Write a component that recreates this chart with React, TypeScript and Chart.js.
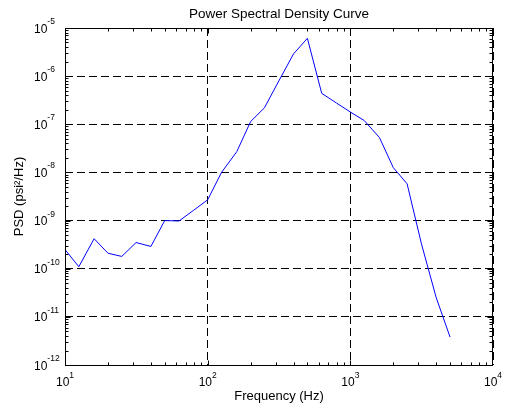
import React, { useEffect, useRef } from 'react';
import { Chart, registerables } from 'chart.js';

Chart.register(...registerables);

const TITLE = 'Power Spectral Density Curve';
const X_LABEL = 'Frequency (Hz)';
const Y_LABEL = 'PSD (psi²/Hz)';

const FREQUENCIES = [10, 12.5, 16, 20, 25, 31.5, 40, 50, 63, 80, 100, 125, 160, 200, 250, 315, 400, 500, 630, 800, 1000, 1250, 1600, 2000, 2500, 3150, 4000, 5000];
const PSD_VALUES = [
  2.5e-10, 1.1e-10, 4.2e-10, 2.1e-10, 1.8e-10, 3.5e-10, 2.9e-10, 1.0e-9, 0.98e-9, 1.65e-9,
  2.7e-9, 1.0e-8, 2.7e-8, 1.14e-7, 2.2e-7, 7.9e-7, 2.9e-6, 6.1e-6, 4.4e-7, 2.76e-7,
  1.8e-7, 1.2e-7, 5.3e-8, 1.26e-8, 5.8e-9, 3.3e-10, 2.5e-11, 3.8e-12,
];

const X_DECADES = [10, 100, 1000, 10000];
const X_TICK_EXPONENTS = ['1', '2', '3', '4'];
const Y_DECADES = [1e-12, 1e-11, 1e-10, 1e-9, 1e-8, 1e-7, 1e-6, 1e-5];
const Y_TICK_EXPONENTS = ['-12', '-11', '-10', '-9', '-8', '-7', '-6', '-5'];
const TICK_BASE = '10';
const MINOR_MULTIPLIERS = [2, 3, 4, 5, 6, 7, 8, 9];

const FONT = '"Liberation Sans", Arial, Helvetica, sans-serif';

function buildTicks(decades: number[]) {
  const out: { value: number; major: boolean }[] = [];
  decades.forEach((d, i) => {
    out.push({ value: d, major: true });
    if (i < decades.length - 1) {
      MINOR_MULTIPLIERS.forEach((m) => out.push({ value: d * m, major: false }));
    }
  });
  return out;
}

const matlabAxes = {
  id: 'matlabAxes',
  afterDraw(chart: any) {
    const { ctx, chartArea: a, scales } = chart;
    const xs = scales.x;
    const ys = scales.y;
    const L = Math.round(a.left) + 0.5;
    const R = Math.round(a.right) - 0.5;
    const T = Math.round(a.top) + 0.5;
    const B = Math.round(a.bottom) + 0.5;
    ctx.save();
    ctx.strokeStyle = '#000';
    ctx.lineWidth = 1;
    ctx.setLineDash([]);
    ctx.beginPath();
    ctx.moveTo(L, T); ctx.lineTo(R, T); ctx.lineTo(R, B); ctx.lineTo(L, B); ctx.closePath();
    xs.ticks.forEach((t: any) => {
      const px = Math.round(xs.getPixelForValue(t.value)) + 0.5;
      if (px <= L + 1 || px >= R - 1) return;
      const len = t.major ? 5 : 3;
      ctx.moveTo(px, B); ctx.lineTo(px, B - len);
      ctx.moveTo(px, T); ctx.lineTo(px, T + len);
    });
    ys.ticks.forEach((t: any) => {
      const py = Math.round(ys.getPixelForValue(t.value)) + 0.5;
      if (py <= T + 1 || py >= B - 1) return;
      const len = t.major ? 5 : 3;
      ctx.moveTo(L, py); ctx.lineTo(L + len, py);
      ctx.moveTo(R, py); ctx.lineTo(R - len, py);
    });
    ctx.stroke();

    ctx.fillStyle = '#000';
    // title centred over the plot area
    ctx.font = `13.5px ${FONT}`;
    ctx.textAlign = 'center';
    ctx.textBaseline = 'alphabetic';
    ctx.fillText(TITLE, (a.left + a.right) / 2, 17.5);

    // tick labels: base "10" with superscript exponent
    ctx.textAlign = 'left';
    const baseFont = `12px ${FONT}`;
    const expFont = `8.5px ${FONT}`;
    X_DECADES.forEach((v, i) => {
      const px = xs.getPixelForValue(v);
      ctx.font = baseFont;
      const bw = ctx.measureText(TICK_BASE).width;
      ctx.font = expFont;
      const ew = ctx.measureText(X_TICK_EXPONENTS[i]).width;
      const start = px - (bw + ew) / 2;
      ctx.font = baseFont;
      ctx.fillText(TICK_BASE, start, 386);
      ctx.font = expFont;
      ctx.fillText(X_TICK_EXPONENTS[i], start + bw, 377.5);
    });
    Y_DECADES.forEach((v, i) => {
      const py = ys.getPixelForValue(v);
      ctx.font = baseFont;
      const bw = ctx.measureText(TICK_BASE).width;
      const baseX = 34;
      ctx.fillText(TICK_BASE, baseX, py + 4.5);
      ctx.font = expFont;
      ctx.fillText(Y_TICK_EXPONENTS[i], baseX + bw, py - 4);
    });
    ctx.restore();
  },
};

export default function App() {
  const canvasRef = useRef<HTMLCanvasElement | null>(null);

  useEffect(() => {
    const canvas = canvasRef.current;
    if (!canvas) return;
    const gridColor = (c: any) => (c.tick && c.tick.major ? '#000' : 'rgba(0,0,0,0)');
    const chart = new Chart(canvas, {
      type: 'line',
      data: {
        datasets: [
          {
            data: FREQUENCIES.map((f, i) => ({ x: f, y: PSD_VALUES[i] })),
            borderColor: '#0000ff',
            borderWidth: 1,
            pointRadius: 0,
            tension: 0,
            fill: false,
          },
        ],
      },
      options: {
        animation: false,
        responsive: false,
        maintainAspectRatio: false,
        events: [],
        layout: { padding: { left: 0, right: 23, top: 28, bottom: 0 } },
        plugins: {
          legend: { display: false },
          tooltip: { enabled: false },
          title: { display: false },
        },
        scales: {
          x: {
            type: 'logarithmic',
            position: 'bottom',
            min: 10,
            max: 10000,
            afterBuildTicks: (s: any) => { s.ticks = buildTicks(X_DECADES); },
            afterFit: (s: any) => { s.height = 43; },
            ticks: { display: false },
            grid: { drawTicks: false, color: gridColor, lineWidth: 1 },
            border: { display: false, dash: [8, 4] },
            title: {
              display: true,
              text: X_LABEL,
              color: '#000',
              font: { family: FONT, size: 13 },
              padding: { top: 0, bottom: 4 },
            },
          },
          y: {
            type: 'logarithmic',
            position: 'left',
            min: 1e-12,
            max: 1e-5,
            afterBuildTicks: (s: any) => { s.ticks = buildTicks(Y_DECADES); },
            afterFit: (s: any) => { s.width = 65; },
            ticks: { display: false },
            grid: { drawTicks: false, color: gridColor, lineWidth: 1 },
            border: { display: false, dash: [8, 4] },
            title: {
              display: true,
              text: Y_LABEL,
              color: '#000',
              font: { family: FONT, size: 13 },
              padding: { top: 11.5, bottom: 0 },
            },
          },
        },
      } as any,
      plugins: [matlabAxes],
    });
    return () => chart.destroy();
  }, []);

  return (
    <div style={{ position: 'absolute', left: 0, top: 0, width: 516, height: 408, background: '#fff' }}>
      <canvas ref={canvasRef} width={516} height={408} />
    </div>
  );
}
